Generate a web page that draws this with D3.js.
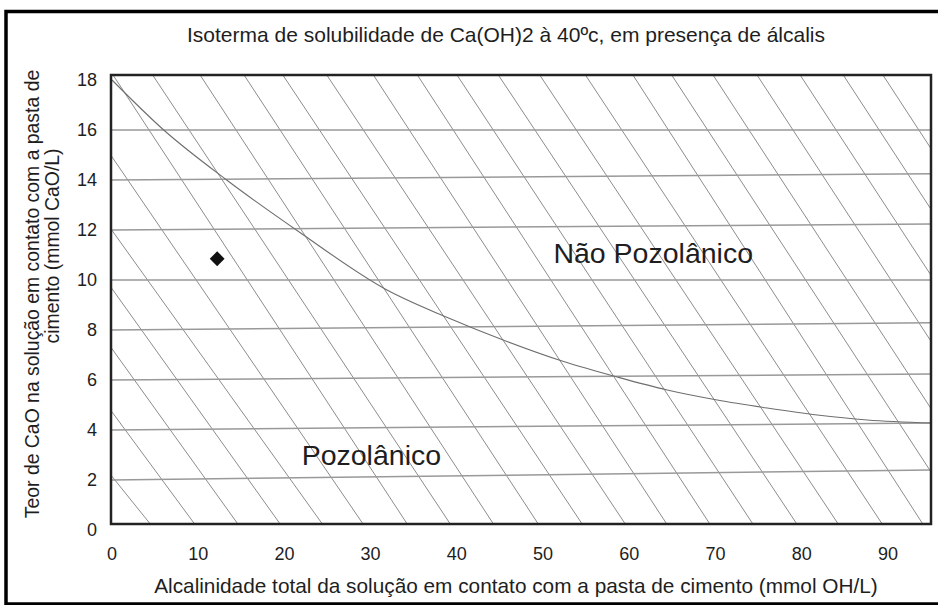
<!DOCTYPE html>
<html>
<head>
<meta charset="utf-8">
<script src="https://cdn.jsdelivr.net/npm/d3@7"></script>
<style>
  body { margin: 0; background: #fff; }
  text { font-family: "Liberation Sans", Arial, sans-serif; fill: #1e1e1e; }
</style>
</head>
<body>
<div id="container"></div>
<script>
    // Data
    let xTicks = [0, 10, 20, 30, 40, 50, 60, 70, 80, 90];
    let yTicks = [0, 2, 4, 6, 8, 10, 12, 14, 16, 18];

    // horizontal grid lines: value at the left edge, value where they meet the right edge
    let gridStart = [2, 4, 6, 8, 10, 12, 14, 16];
    let gridEnd = [2.4, 4.28, 6.24, 8.29, 10, 12.24, 14.25, 16];

    // diagonal hatch: x where each line crosses y = 18 and y = 0
    let hatchTop = [-37, -28.4, -22.4, -17.3, -12.5, -6.1, 0.5, 5.1, 10.6, 15.7, 20.2, 25.3, 30.7,
        35.8, 40.4, 45.2, 50, 55.3, 60.8, 65.3, 70.1, 75.2, 80.2, 85.2, 89.8];
    let hatchBottom = [5, 10.1, 15.1, 20, 24.9, 29.6, 34.7, 39.7, 44.7, 49.9, 55, 60, 64.8,
        69.8, 74.8, 79.9, 84.7, 89.8, 94.5, 99.4, 104.2, 109.3, 114.3, 119.3, 123.9];

    // solubility isotherm
    let curveX = [0, 6, 13.3, 21.8, 31.9, 38.9, 45, 52.3, 58.6, 64.4, 70.2, 76, 81.8, 87.6, 95];
    let curveY = [18, 16.0, 14.0, 11.9, 9.6, 8.5, 7.65, 6.75, 6.12, 5.6, 5.2, 4.88, 4.6, 4.4, 4.28];

    // measured sample
    let sampleX = [12.2];
    let sampleY = [10.85];

    let regionLabels = ["Não Pozolânico", "Pozolânico"];
    let regionX = [51.2, 22];
    let regionY = [10.7, 2.6];

    // Set up SVG
    let W = 938, H = 605;
    let frame = { left: 111, right: 931, top: 75, bottom: 524 };

    let svg = d3.select("#container")
        .append("svg")
        .attr("width", W)
        .attr("height", H);

    let x = d3.scaleLinear().domain([0, 95]).range([112, 931]);
    let y = d3.scaleLinear().domain([0, 18]).range([530, 80]);

    // outer border
    svg.append("rect")
        .attr("x", 6).attr("y", 11.5)
        .attr("width", W).attr("height", 592.5)
        .attr("fill", "none")
        .attr("stroke", "#000")
        .attr("stroke-width", 3.5);

    svg.append("clipPath").attr("id", "plotClip")
        .append("rect")
        .attr("x", frame.left).attr("y", frame.top)
        .attr("width", frame.right - frame.left)
        .attr("height", frame.bottom - frame.top);

    let plot = svg.append("g").attr("clip-path", "url(#plotClip)");

    // hatch lines
    let hatch = hatchTop.map((t, i) => ({ top: t, bottom: hatchBottom[i] }));
    let at = (d, v) => d.bottom + (d.top - d.bottom) * v / 18;
    plot.selectAll("line.hatch")
        .data(hatch)
        .enter()
        .append("line")
        .attr("class", "hatch")
        .attr("x1", d => x(at(d, 18.6)))
        .attr("y1", y(18.6))
        .attr("x2", d => x(at(d, -0.6)))
        .attr("y2", y(-0.6))
        .attr("stroke", "#5a5a5a")
        .attr("stroke-width", 0.7);

    // grid lines
    plot.selectAll("line.grid")
        .data(gridStart)
        .enter()
        .append("line")
        .attr("class", "grid")
        .attr("x1", frame.left)
        .attr("y1", d => y(d))
        .attr("x2", frame.right)
        .attr("y2", (d, i) => y(gridEnd[i]))
        .attr("stroke", "#999")
        .attr("stroke-width", 1.5);

    // isotherm curve
    let curvePts = curveX.map((v, i) => [v, curveY[i]]);
    plot.append("path")
        .datum(curvePts)
        .attr("fill", "none")
        .attr("stroke", "#6e6e6e")
        .attr("stroke-width", 1.1)
        .attr("d", d3.line().x(d => x(d[0])).y(d => y(d[1])).curve(d3.curveMonotoneX));

    // sample point
    svg.selectAll("path.sample")
        .data(sampleX)
        .enter()
        .append("path")
        .attr("class", "sample")
        .attr("d", d3.symbol().type(d3.symbolSquare).size(110))
        .attr("transform", (d, i) => `translate(${x(d)},${y(sampleY[i])}) rotate(45)`)
        .attr("fill", "#111");

    // frame
    svg.append("rect")
        .attr("x", frame.left).attr("y", frame.top)
        .attr("width", frame.right - frame.left)
        .attr("height", frame.bottom - frame.top)
        .attr("fill", "none")
        .attr("stroke", "#222")
        .attr("stroke-width", 2.5);

    // region labels
    svg.selectAll("text.region")
        .data(regionLabels)
        .enter()
        .append("text")
        .attr("class", "region")
        .attr("x", (d, i) => x(regionX[i]))
        .attr("y", (d, i) => y(regionY[i]))
        .attr("font-size", 28.5)
        .text(d => d);

    // tick labels
    svg.selectAll("text.ylab")
        .data(yTicks)
        .enter()
        .append("text")
        .attr("class", "ylab")
        .attr("x", 97)
        .attr("y", d => y(d))
        .attr("dy", "0.35em")
        .attr("text-anchor", "end")
        .attr("font-size", 18)
        .text(d => d);

    svg.selectAll("text.xlab")
        .data(xTicks)
        .enter()
        .append("text")
        .attr("class", "xlab")
        .attr("x", d => x(d))
        .attr("y", 560)
        .attr("text-anchor", "middle")
        .attr("font-size", 18)
        .text(d => d);

    // titles
    svg.append("text")
        .attr("x", 506).attr("y", 42)
        .attr("text-anchor", "middle")
        .attr("font-size", 21)
        .text("Isoterma de solubilidade de Ca(OH)2 à 40ºc, em presença de álcalis");

    svg.append("text")
        .attr("x", 516).attr("y", 593)
        .attr("text-anchor", "middle")
        .attr("font-size", 20.8)
        .text("Alcalinidade total da solução em contato com a pasta de cimento (mmol OH/L)");

    let yTitle = svg.append("text")
        .attr("transform", "translate(39,294) rotate(-90)")
        .attr("text-anchor", "middle")
        .attr("font-size", 19.4);
    yTitle.append("tspan").attr("x", 0).attr("dy", 0)
        .text("Teor de CaO na solução em contato com a pasta de");
    yTitle.append("tspan").attr("x", 48).attr("dy", 20)
        .text("cimento (mmol CaO/L)");
</script>
</body>
</html>
